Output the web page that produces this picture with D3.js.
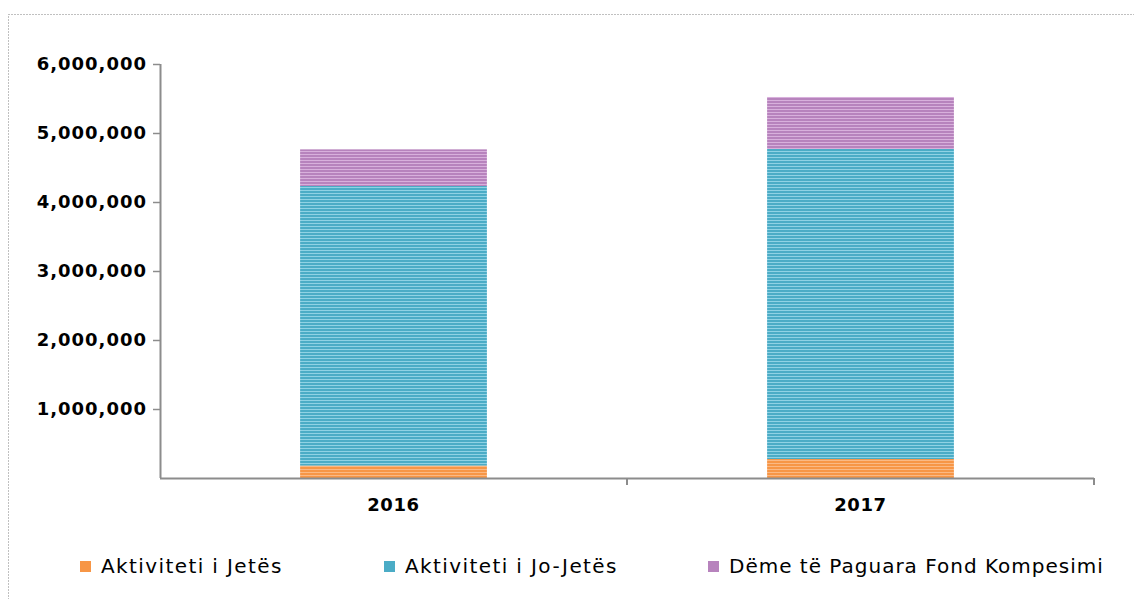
<!DOCTYPE html>
<html><head><meta charset="utf-8">
<script src="https://cdn.jsdelivr.net/npm/d3@7"></script>
<style>
html,body{margin:0;padding:0;background:#fff;}
svg{display:block;}
text{font-family:"DejaVu Sans",Verdana,sans-serif;fill:#000;}
</style></head><body>
<svg id="c" width="1134" height="599"></svg>
<script>
const categories = ["2016", "2017"];
const seriesNames = ["Aktiviteti i Jetës", "Aktiviteti i Jo-Jetës", "Dëme të Paguara Fond Kompesimi"];
const jete = [180000, 275000];
const joJete = [4052000, 4493000];
const deme = [531000, 754000];
const yTicks = [1000000, 2000000, 3000000, 4000000, 5000000, 6000000];

(function () {
const colors = ["#f79646", "#4bacc6", "#b783bd"];
const light = ["#fbb984", "#8fd2e4", "#d8b0dc"];

const svg = d3.select("#c");

svg.append("rect").attr("x", 8.5).attr("y", 14.5).attr("width", 1140).attr("height", 600)
  .attr("fill", "none").attr("stroke", "#808080").attr("stroke-width", 1).attr("stroke-dasharray", "1,2");

const defs = svg.append("defs");
colors.forEach((c, i) => {
  const p = defs.append("pattern").attr("id", "pat" + i).attr("patternUnits", "userSpaceOnUse")
    .attr("width", 8).attr("height", 3);
  p.append("rect").attr("width", 8).attr("height", 3).attr("fill", c);
  p.append("rect").attr("y", 1).attr("width", 8).attr("height", 1).attr("fill", light[i]);
});

const pL = 160, pR = 1094, pT = 64, pB = 478;
const x = d3.scaleBand().domain(categories).range([pL, pR]).padding(0);
const y = d3.scaleLinear().domain([0, 6000000]).range([pB, pT]);

const data = categories.map((c, i) => ({cat: c, v0: jete[i], v1: joJete[i], v2: deme[i]}));
const stack = d3.stack().keys(["v0", "v1", "v2"])(data);

const barW = x.bandwidth() * 0.4;
stack.forEach((layer, li) => {
  svg.append("g").selectAll("rect").data(layer).join("rect")
    .attr("x", d => x(d.data.cat) + (x.bandwidth() - barW) / 2)
    .attr("width", barW)
    .attr("y", d => y(d[1]))
    .attr("height", d => y(d[0]) - y(d[1]))
    .attr("fill", "url(#pat" + li + ")");
});

const axisColor = "#8c8c8c";
const yAxis = svg.append("g").attr("transform", `translate(${pL},0)`)
  .call(d3.axisLeft(y).tickValues(yTicks).tickSize(7).tickPadding(6).tickFormat(d3.format(",")).tickSizeOuter(0));
yAxis.select(".domain").attr("stroke", axisColor).attr("stroke-width", 2).attr("d", `M0.5,${pT}V${pB}`);
yAxis.selectAll(".tick line").attr("stroke", axisColor).attr("stroke-width", 1.5);
yAxis.selectAll(".tick text").style("font-size", "18px").style("font-weight", "bold").style("letter-spacing", "1px");

const xAxis = svg.append("g").attr("transform", `translate(0,${pB})`)
  .call(d3.axisBottom(x).tickSize(0).tickPadding(20).tickSizeOuter(0));
xAxis.select(".domain").attr("stroke", axisColor).attr("stroke-width", 2).attr("d", `M${pL},0.5H${pR}`);
xAxis.selectAll(".tick text").style("font-size", "18px").style("font-weight", "bold").style("letter-spacing", "0.6px");
const bounds = categories.slice(1).map(c => x(c)).concat([pR]);
xAxis.append("g").selectAll("line").data(bounds).join("line")
  .attr("x1", d => d).attr("x2", d => d).attr("y1", 0).attr("y2", 7)
  .attr("stroke", axisColor).attr("stroke-width", 2);

const legendX = [80, 384, 708];
const legendLS = ["1.4px", "1.4px", "1px"];
const lg = svg.append("g");
seriesNames.forEach((n, i) => {
  lg.append("rect").attr("x", legendX[i]).attr("y", 561).attr("width", 11).attr("height", 11).attr("fill", colors[i]);
  lg.append("text").attr("x", legendX[i] + 21).attr("y", 573).text(n)
    .style("font-size", "20px").style("letter-spacing", legendLS[i]);
});
})();
</script>
</body></html>
